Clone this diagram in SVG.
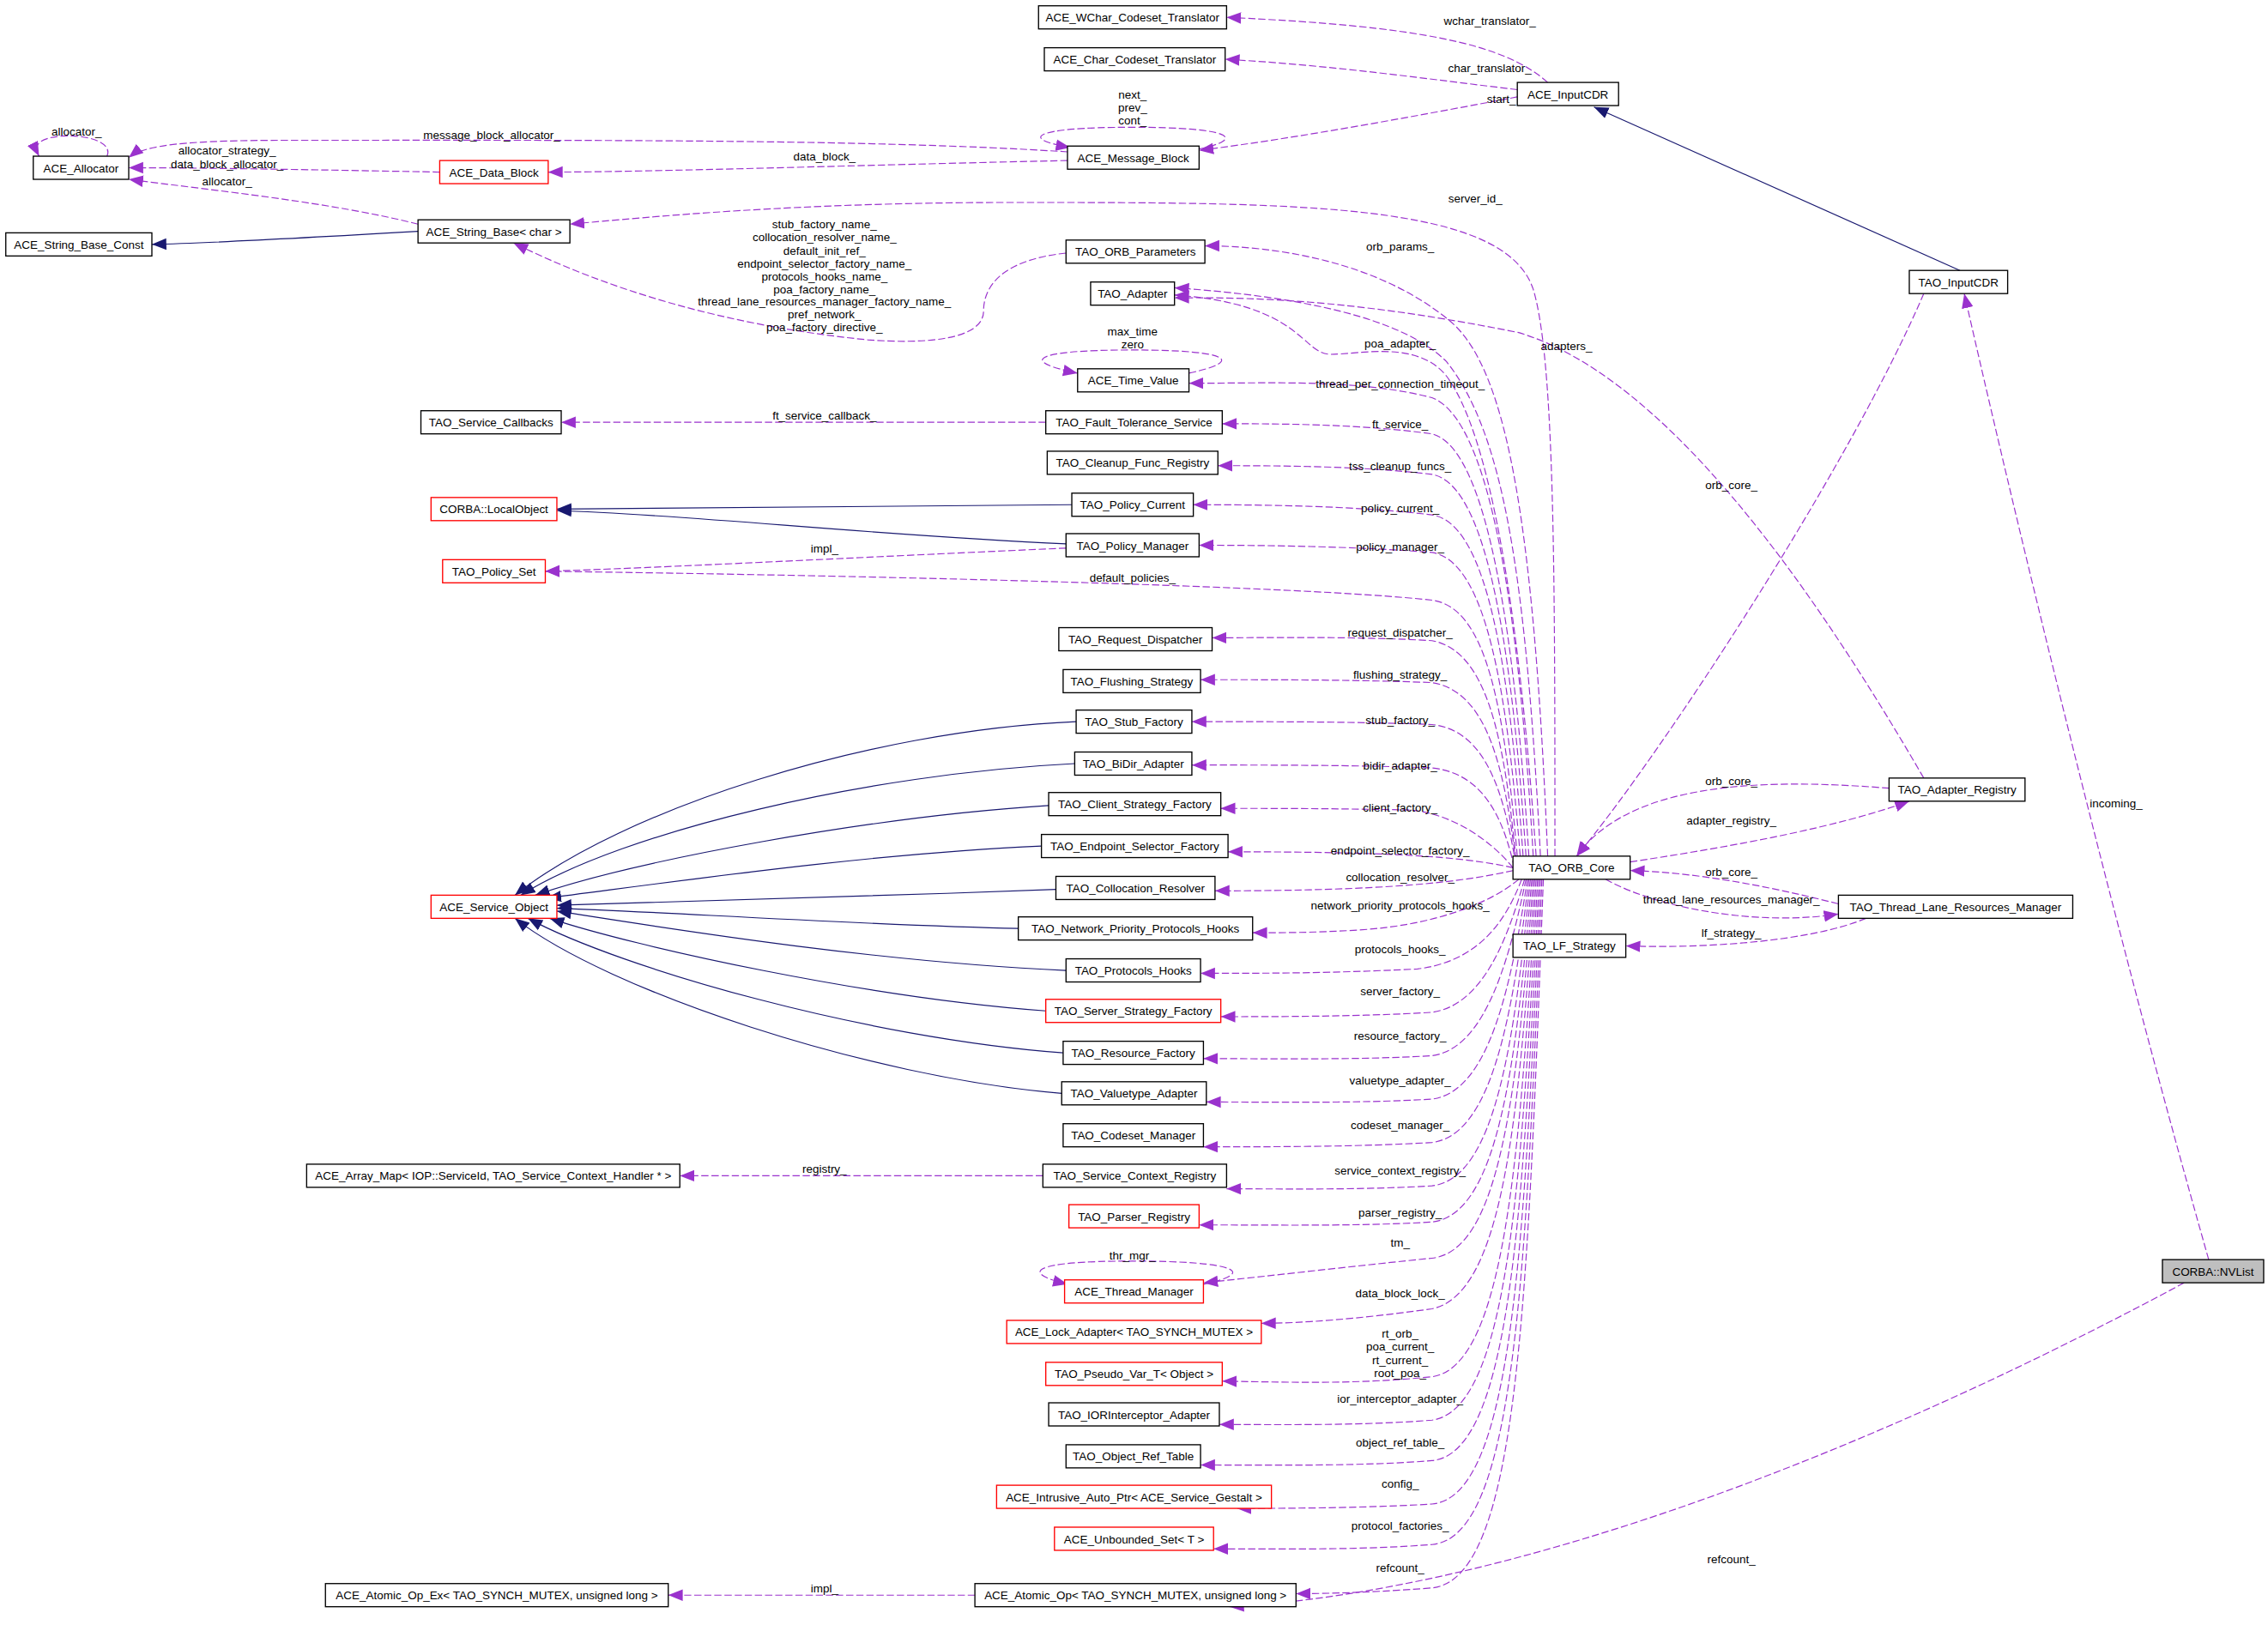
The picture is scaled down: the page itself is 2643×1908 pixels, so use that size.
<svg xmlns="http://www.w3.org/2000/svg" width="2643" height="1908" viewBox="0 0 2643 1908">
<style>
.n rect{fill:#fff;stroke:#000;stroke-width:0.8}
.r rect{stroke:#f00}
.g rect{fill:#bfbfbf}
text{font-family:"Liberation Sans",Arial,sans-serif;font-size:8px;fill:#000;text-anchor:middle}
.e path{fill:none}
.u{stroke:#9a32cd;stroke-width:0.7;stroke-dasharray:5,2;marker-end:url(#pa)}
.h{stroke:#191970;stroke-width:0.7;marker-end:url(#ha)}
</style>
<defs>
<marker id="pa" viewBox="0 0 10 10" refX="10" refY="5" markerWidth="10" markerHeight="10" markerUnits="userSpaceOnUse" orient="auto"><path d="M0,1 L10,5 L0,9 z" fill="#9a32cd"/></marker>
<marker id="ha" viewBox="0 0 10 10" refX="10" refY="5" markerWidth="10" markerHeight="10" markerUnits="userSpaceOnUse" orient="auto"><path d="M0,1 L10,5 L0,9 z" fill="#191970"/></marker>
</defs>
<rect width="2643" height="1908" fill="#fff"/>
<g transform="scale(1.6856)">
<g id="edges" class="e">
<path class="h" d="M1355,187 L1102,74"/>
<path class="h" d="M289,160 C220,164 150,168 105,169"/>
<path class="h" d="M741,349 C620,350 500,352 385,352"/>
<path class="h" d="M737,376 C600,370 480,356 385,353"/>
<path class="h" d="M744,499 C600,505 430,560 356,619"/>
<path class="h" d="M743,528 C600,535 430,575 360,619"/>
<path class="h" d="M725,557 C600,565 440,595 370,619"/>
<path class="h" d="M720,585 C600,590 450,612 378,621"/>
<path class="h" d="M730,615 C600,620 450,624 385,626"/>
<path class="h" d="M704,642 C600,640 450,630 385,628"/>
<path class="h" d="M737,671 C600,665 450,640 385,630"/>
<path class="h" d="M723,699 C600,690 440,655 380,635"/>
<path class="h" d="M735,728 C600,718 430,670 365,635"/>
<path class="h" d="M734,756 C600,745 420,685 356,635"/>

<path class="u" d="M1070,57 C1040,30 980,18 848,12"/>
<path class="u" d="M1049,62 C990,55 920,45 847,41"/>
<path class="u" d="M1049,67 C980,80 900,95 829,104"/>
<path class="u" d="M829,103 C862,96 852,88 783,88 C712,88 705,96 740,102"/>
<path class="u" d="M738,105 C600,96 400,97 200,97 C130,97 100,100 89,109"/>
<path class="u" d="M738,111 C600,114 450,119 379,119"/>
<path class="u" d="M304,119 C250,118 150,116 89,116"/>
<path class="u" d="M74,108 C80,94 40,90 28,98 C23,102 26,106 27,108"/>
<path class="u" d="M289,155 C230,140 150,132 89,124"/>
<path class="u" d="M1075,592 C1075,400 1075,250 1060,200 C1040,140 900,140 700,140 C550,140 450,150 394,155"/>
<path class="u" d="M737,175 C690,180 680,200 680,215 C680,235 640,238 600,235 C500,225 420,200 355,168"/>
<path class="u" d="M1070,592 C1060,350 1040,250 1000,220 C950,180 880,170 833,170"/>
<path class="u" d="M1065,592 C1055,400 1040,300 1000,250 C970,220 900,205 812,199"/>
<path class="u" d="M1062,592 C1050,420 1030,300 1000,260 C980,235 940,245 920,245 C900,245 900,210 812,204"/>
<path class="u" d="M1330,538 C1250,400 1150,260 1050,230 C950,210 880,205 812,206"/>
<path class="u" d="M1060,592 C1050,420 1030,290 990,275 C940,262 880,265 822,265"/>
<path class="u" d="M822,258 C860,250 852,242 783,242 C712,242 705,250 745,258"/>
<path class="u" d="M723,292 C600,292 480,292 388,292"/>
<path class="u" d="M1057,592 C1048,450 1030,310 990,300 C940,293 880,293 845,293"/>
<path class="u" d="M1055,592 C1046,460 1030,335 990,328 C940,322 880,322 842,322"/>
<path class="u" d="M1053,592 C1044,470 1030,362 990,356 C940,350 880,349 825,349"/>
<path class="u" d="M1051,592 C1042,480 1028,388 990,382 C940,378 880,377 829,377"/>
<path class="u" d="M737,379 C600,385 450,393 377,395"/>
<path class="u" d="M1049,592 C1040,490 1028,420 990,415 C900,405 600,398 377,395"/>
<path class="u" d="M1048,594 C1040,510 1028,450 990,443 C940,440 880,441 838,441"/>
<path class="u" d="M1048,596 C1040,530 1028,478 990,472 C940,470 880,470 830,470"/>
<path class="u" d="M1048,598 C1040,550 1028,505 990,501 C940,499 880,499 824,499"/>
<path class="u" d="M1047,600 C1040,570 1028,535 990,531 C940,529 880,529 824,529"/>
<path class="u" d="M1046,600 C1030,580 1000,560 970,560 C920,559 880,559 844,559"/>
<path class="u" d="M1046,600 C1010,592 960,589 849,589"/>
<path class="u" d="M1046,602 C1010,610 960,616 840,616"/>
<path class="u" d="M1050,608 C1030,625 990,640 940,643 C910,645 880,645 866,645"/>
<path class="u" d="M1052,608 C1040,640 1020,665 980,670 C920,673 880,673 830,673"/>
<path class="u" d="M1054,608 C1042,650 1025,695 990,700 C940,703 880,703 844,703"/>
<path class="u" d="M1055,608 C1044,660 1028,725 990,730 C940,733 880,732 832,732"/>
<path class="u" d="M1056,608 C1045,680 1030,755 990,760 C940,763 880,762 834,762"/>
<path class="u" d="M1057,608 C1046,700 1032,785 990,790 C940,793 880,793 832,793"/>
<path class="u" d="M1058,608 C1047,720 1034,815 990,820 C940,823 880,822 848,822"/>
<path class="u" d="M721,813 C650,813 550,813 470,813"/>
<path class="u" d="M1059,608 C1048,740 1035,840 990,845 C940,848 880,847 829,847"/>
<path class="u" d="M1060,608 C1049,760 1036,865 990,870 C940,875 880,882 832,887"/>
<path class="u" d="M832,888 C870,880 855,872 783,872 C712,872 705,880 738,888"/>
<path class="u" d="M1061,608 C1050,780 1038,895 990,905 C940,912 900,915 872,915"/>
<path class="u" d="M1062,608 C1051,800 1040,945 990,952 C940,957 900,956 845,955"/>
<path class="u" d="M1063,608 C1052,820 1042,975 990,982 C940,986 880,985 843,985"/>
<path class="u" d="M1064,608 C1053,840 1044,1005 990,1010 C940,1014 880,1013 830,1013"/>
<path class="u" d="M1065,608 C1054,860 1046,1035 990,1040 C940,1043 880,1043 855,1043"/>
<path class="u" d="M1066,608 C1055,880 1048,1063 990,1068 C940,1072 880,1071 839,1071"/>
<path class="u" d="M1067,608 C1056,900 1050,1092 990,1098 C940,1102 900,1102 896,1102"/>
<path class="u" d="M674,1103 C600,1103 520,1103 462,1103"/>
<path class="u" d="M1510,887 C1300,1000 1050,1100 850,1111"/>
<path class="u" d="M1527,871 C1450,600 1380,300 1358,203"/>
<path class="u" d="M1330,203 C1280,320 1150,520 1090,592"/>
<path class="u" d="M1306,545 C1240,540 1130,535 1090,592"/>
<path class="u" d="M1127,596 C1200,585 1270,572 1320,554"/>
<path class="u" d="M1271,625 C1220,612 1170,603 1127,602"/>
<path class="u" d="M1110,608 C1150,630 1220,640 1271,632"/>
<path class="u" d="M1290,635 C1250,652 1170,656 1124,654"/>
</g>
<g class="lbl">
<text x="1030" y="17">wchar_translator_</text>
<text x="1030" y="50">char_translator_</text>
<text x="1038" y="71">start_</text>
<text x="783" y="68">next_</text><text x="783" y="77">prev_</text><text x="783" y="86">cont_</text>
<text x="340" y="96">message_block_allocator_</text>
<text x="570" y="111">data_block_</text>
<text x="157" y="107">allocator_strategy_</text><text x="157" y="116">data_block_allocator_</text>
<text x="53" y="94">allocator_</text>
<text x="157" y="128">allocator_</text>
<text x="1020" y="140">server_id_</text>
<text x="570" y="158">stub_factory_name_</text>
<text x="570" y="167">collocation_resolver_name_</text>
<text x="570" y="176">default_init_ref_</text>
<text x="570" y="185">endpoint_selector_factory_name_</text>
<text x="570" y="194">protocols_hooks_name_</text>
<text x="570" y="203">poa_factory_name_</text>
<text x="570" y="211">thread_lane_resources_manager_factory_name_</text>
<text x="570" y="220">pref_network_</text>
<text x="570" y="229">poa_factory_directive_</text>
<text x="968" y="173">orb_params_</text>
<text x="968" y="240">poa_adapter_</text>
<text x="1083" y="242">adapters_</text>
<text x="783" y="232">max_time</text><text x="783" y="241">zero</text>
<text x="968" y="268">thread_per_connection_timeout_</text>
<text x="570" y="290">ft_service_callback_</text>
<text x="968" y="296">ft_service_</text>
<text x="968" y="325">tss_cleanup_funcs_</text>
<text x="968" y="354">policy_current_</text>
<text x="968" y="381">policy_manager_</text>
<text x="570" y="382">impl_</text>
<text x="783" y="402">default_policies_</text>
<text x="968" y="440">request_dispatcher_</text>
<text x="968" y="469">flushing_strategy_</text>
<text x="968" y="501">stub_factory_</text>
<text x="968" y="532">bidir_adapter_</text>
<text x="968" y="561">client_factory_</text>
<text x="968" y="591">endpoint_selector_factory_</text>
<text x="968" y="609">collocation_resolver_</text>
<text x="968" y="629">network_priority_protocols_hooks_</text>
<text x="968" y="659">protocols_hooks_</text>
<text x="968" y="688">server_factory_</text>
<text x="968" y="719">resource_factory_</text>
<text x="968" y="750">valuetype_adapter_</text>
<text x="968" y="781">codeset_manager_</text>
<text x="968" y="812">service_context_registry_</text>
<text x="570" y="811">registry_</text>
<text x="968" y="841">parser_registry_</text>
<text x="968" y="862">tm_</text>
<text x="783" y="871">thr_mgr_</text>
<text x="968" y="897">data_block_lock_</text>
<text x="968" y="925">rt_orb_</text><text x="968" y="934">poa_current_</text><text x="968" y="943">rt_current_</text><text x="968" y="952">root_poa_</text>
<text x="968" y="970">ior_interceptor_adapter_</text>
<text x="968" y="1000">object_ref_table_</text>
<text x="968" y="1029">config_</text>
<text x="968" y="1058">protocol_factories_</text>
<text x="968" y="1087">refcount_</text>
<text x="570" y="1101">impl_</text>
<text x="1197" y="1081">refcount_</text>
<text x="1463" y="558">incoming_</text>
<text x="1197" y="338">orb_core_</text>
<text x="1197" y="543">orb_core_</text>
<text x="1197" y="570">adapter_registry_</text>
<text x="1197" y="606">orb_core_</text>
<text x="1197" y="625">thread_lane_resources_manager_</text>
<text x="1197" y="648">lf_strategy_</text>
</g>
<g id="n1" class="n"><rect x="718" y="4" width="130" height="16"/><text x="783" y="15">ACE_WChar_Codeset_Translator</text></g>
<g id="n2" class="n"><rect x="722" y="33" width="125" height="16"/><text x="784.5" y="44">ACE_Char_Codeset_Translator</text></g>
<g id="n3" class="n"><rect x="1049" y="57" width="70" height="16"/><text x="1084" y="68">ACE_InputCDR</text></g>
<g id="n4" class="n"><rect x="738" y="101" width="91" height="16"/><text x="783.5" y="112">ACE_Message_Block</text></g>
<g id="n5" class="n"><rect x="23" y="108" width="66" height="16"/><text x="56" y="119">ACE_Allocator</text></g>
<g id="n6" class="n r"><rect x="304" y="111" width="75" height="16"/><text x="341.5" y="122">ACE_Data_Block</text></g>
<g id="n7" class="n"><rect x="289" y="152" width="105" height="16"/><text x="341.5" y="163">ACE_String_Base&lt; char &gt;</text></g>
<g id="n8" class="n"><rect x="4" y="161" width="101" height="16"/><text x="54.5" y="172">ACE_String_Base_Const</text></g>
<g id="n9" class="n"><rect x="737" y="166" width="96" height="16"/><text x="785" y="177">TAO_ORB_Parameters</text></g>
<g id="n10" class="n"><rect x="754" y="195" width="58" height="16"/><text x="783" y="206">TAO_Adapter</text></g>
<g id="n11" class="n"><rect x="1320" y="187" width="68" height="16"/><text x="1354" y="198">TAO_InputCDR</text></g>
<g id="n12" class="n"><rect x="745" y="255" width="77" height="16"/><text x="783.5" y="266">ACE_Time_Value</text></g>
<g id="n13" class="n"><rect x="291" y="284" width="97" height="16"/><text x="339.5" y="295">TAO_Service_Callbacks</text></g>
<g id="n14" class="n"><rect x="723" y="284" width="122" height="16"/><text x="784" y="295">TAO_Fault_Tolerance_Service</text></g>
<g id="n15" class="n"><rect x="724" y="312" width="118" height="16"/><text x="783" y="323">TAO_Cleanup_Func_Registry</text></g>
<g id="n16" class="n r"><rect x="298" y="344" width="87" height="16"/><text x="341.5" y="355">CORBA::LocalObject</text></g>
<g id="n17" class="n"><rect x="741" y="341" width="84" height="16"/><text x="783" y="352">TAO_Policy_Current</text></g>
<g id="n18" class="n"><rect x="737" y="369" width="92" height="16"/><text x="783" y="380">TAO_Policy_Manager</text></g>
<g id="n19" class="n r"><rect x="306" y="387" width="71" height="16"/><text x="341.5" y="398">TAO_Policy_Set</text></g>
<g id="n20" class="n"><rect x="732" y="434" width="106" height="16"/><text x="785" y="445">TAO_Request_Dispatcher</text></g>
<g id="n21" class="n"><rect x="735" y="463" width="95" height="16"/><text x="782.5" y="474">TAO_Flushing_Strategy</text></g>
<g id="n22" class="n"><rect x="744" y="491" width="80" height="16"/><text x="784" y="502">TAO_Stub_Factory</text></g>
<g id="n23" class="n"><rect x="743" y="520" width="81" height="16"/><text x="783.5" y="531">TAO_BiDir_Adapter</text></g>
<g id="n24" class="n"><rect x="725" y="548" width="119" height="16"/><text x="784.5" y="559">TAO_Client_Strategy_Factory</text></g>
<g id="n25" class="n"><rect x="720" y="577" width="129" height="16"/><text x="784.5" y="588">TAO_Endpoint_Selector_Factory</text></g>
<g id="n26" class="n"><rect x="730" y="606" width="110" height="16"/><text x="785" y="617">TAO_Collocation_Resolver</text></g>
<g id="n27" class="n r"><rect x="298" y="619" width="87" height="16"/><text x="341.5" y="630">ACE_Service_Object</text></g>
<g id="n28" class="n"><rect x="704" y="634" width="162" height="16"/><text x="785" y="645">TAO_Network_Priority_Protocols_Hooks</text></g>
<g id="n29" class="n"><rect x="737" y="663" width="93" height="16"/><text x="783.5" y="674">TAO_Protocols_Hooks</text></g>
<g id="n30" class="n r"><rect x="723" y="691" width="121" height="16"/><text x="783.5" y="702">TAO_Server_Strategy_Factory</text></g>
<g id="n31" class="n"><rect x="735" y="720" width="97" height="16"/><text x="783.5" y="731">TAO_Resource_Factory</text></g>
<g id="n32" class="n"><rect x="734" y="748" width="100" height="16"/><text x="784" y="759">TAO_Valuetype_Adapter</text></g>
<g id="n33" class="n"><rect x="735" y="777" width="97" height="16"/><text x="783.5" y="788">TAO_Codeset_Manager</text></g>
<g id="n34" class="n"><rect x="212" y="805" width="258" height="16"/><text x="341" y="816">ACE_Array_Map&lt; IOP::ServiceId, TAO_Service_Context_Handler * &gt;</text></g>
<g id="n35" class="n"><rect x="721" y="805" width="127" height="16"/><text x="784.5" y="816">TAO_Service_Context_Registry</text></g>
<g id="n36" class="n r"><rect x="739" y="833" width="90" height="16"/><text x="784" y="844">TAO_Parser_Registry</text></g>
<g id="n37" class="n r"><rect x="736" y="885" width="96" height="16"/><text x="784" y="896">ACE_Thread_Manager</text></g>
<g id="n38" class="n r"><rect x="696" y="913" width="176" height="16"/><text x="784" y="924">ACE_Lock_Adapter&lt; TAO_SYNCH_MUTEX &gt;</text></g>
<g id="n39" class="n r"><rect x="723" y="942" width="122" height="16"/><text x="784" y="953">TAO_Pseudo_Var_T&lt; Object &gt;</text></g>
<g id="n40" class="n"><rect x="725" y="970" width="118" height="16"/><text x="784" y="981">TAO_IORInterceptor_Adapter</text></g>
<g id="n41" class="n"><rect x="737" y="999" width="93" height="16"/><text x="783.5" y="1010">TAO_Object_Ref_Table</text></g>
<g id="n42" class="n r"><rect x="689" y="1027" width="190" height="16"/><text x="784" y="1038">ACE_Intrusive_Auto_Ptr&lt; ACE_Service_Gestalt &gt;</text></g>
<g id="n43" class="n r"><rect x="729" y="1056" width="110" height="16"/><text x="784" y="1067">ACE_Unbounded_Set&lt; T &gt;</text></g>
<g id="n44" class="n"><rect x="225" y="1095" width="237" height="16"/><text x="343.5" y="1106">ACE_Atomic_Op_Ex&lt; TAO_SYNCH_MUTEX, unsigned long &gt;</text></g>
<g id="n45" class="n"><rect x="674" y="1095" width="222" height="16"/><text x="785" y="1106">ACE_Atomic_Op&lt; TAO_SYNCH_MUTEX, unsigned long &gt;</text></g>
<g id="n46" class="n"><rect x="1046" y="592" width="81" height="16"/><text x="1086.5" y="603">TAO_ORB_Core</text></g>
<g id="n47" class="n"><rect x="1046" y="646" width="78" height="16"/><text x="1085" y="657">TAO_LF_Strategy</text></g>
<g id="n48" class="n"><rect x="1306" y="538" width="94" height="16"/><text x="1353" y="549">TAO_Adapter_Registry</text></g>
<g id="n49" class="n"><rect x="1271" y="619" width="162" height="16"/><text x="1352" y="630">TAO_Thread_Lane_Resources_Manager</text></g>
<g id="n50" class="n g"><rect x="1495" y="871" width="70" height="16"/><text x="1530" y="882">CORBA::NVList</text></g>
</g>
</svg>
